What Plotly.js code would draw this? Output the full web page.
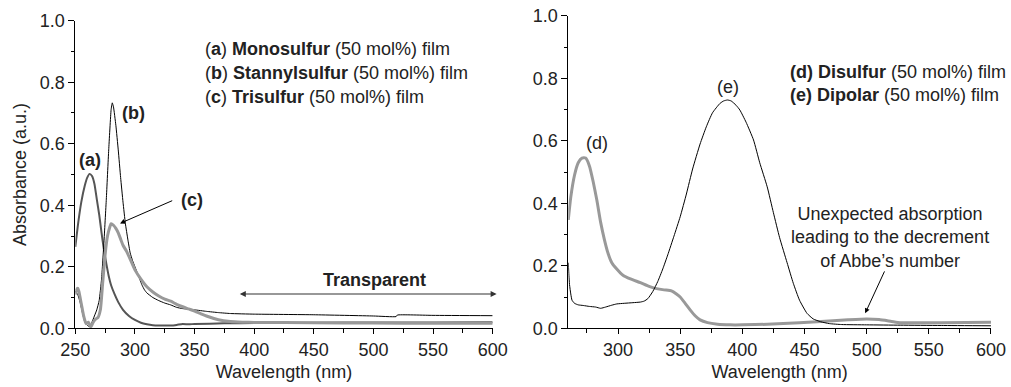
<!DOCTYPE html>
<html>
<head>
<meta charset="utf-8">
<script src="https://cdn.plot.ly/plotly-3.0.1.min.js"></script>
<style>html,body{margin:0;padding:0;background:#fff;}#chart{width:1011px;height:387px;}</style>
</head>
<body>
<div id="chart"></div>
<script>
// (a) Monosulfur
const aX = [250,252,255,258,260,262,264,266,268,270,272,274,276,278,280,283,286,290,295,300,305,310,315,320,330,335,340,345,350,375,400,450,500,550,600];
const aY = [0.265,0.33,0.41,0.465,0.49,0.502,0.495,0.47,0.42,0.37,0.31,0.255,0.21,0.17,0.14,0.11,0.085,0.06,0.04,0.027,0.018,0.013,0.01,0.009,0.009,0.011,0.014,0.013,0.014,0.016,0.017,0.018,0.019,0.019,0.02];
// (b) Stannylsulfur
const bX = [250,252,254,256,258,260,262,264,266,268,270,272,274,276,278,280,281,282,284,286,288,290,292,294,296,298,300,303,306,308,310,315,320,325,330,335,340,345,350,360,370,380,400,450,500,519,520,550,600];
const bY = [0.12,0.11,0.085,0.05,0.02,0.01,0.005,0.02,0.04,0.06,0.09,0.16,0.28,0.42,0.58,0.71,0.733,0.72,0.66,0.58,0.49,0.41,0.34,0.29,0.245,0.22,0.2,0.17,0.14,0.125,0.115,0.1,0.09,0.082,0.076,0.068,0.064,0.062,0.06,0.055,0.051,0.048,0.046,0.044,0.04,0.038,0.043,0.042,0.041];
// (c) Trisulfur
const cX = [250,251,252,253,255,257,259,261,263,265,267,269,271,273,275,277,279,280,282,284,286,288,290,293,296,300,305,310,315,320,325,330,335,340,345,350,355,360,370,380,390,400,450,500,550,600];
const cY = [0.11,0.125,0.13,0.12,0.08,0.04,0.015,0.02,0.005,0.02,0.03,0.035,0.06,0.15,0.24,0.3,0.33,0.34,0.335,0.325,0.31,0.29,0.27,0.25,0.225,0.19,0.16,0.135,0.118,0.105,0.095,0.088,0.078,0.07,0.063,0.056,0.048,0.04,0.028,0.022,0.02,0.019,0.018,0.017,0.016,0.016];
// (d) Disulfur
const dX = [260,262,265,268,271,274,277,280,283,286,289,292,295,299,304,310,318,325,331,337,343,347,350,354,358,362,366,372,380,390,400,420,446,460,473,485,500,510,520,527,540,560,600];
const dY = [0.347,0.42,0.49,0.53,0.545,0.545,0.52,0.47,0.41,0.34,0.285,0.24,0.21,0.19,0.17,0.158,0.146,0.134,0.127,0.123,0.12,0.11,0.1,0.08,0.059,0.04,0.027,0.018,0.013,0.011,0.011,0.013,0.018,0.021,0.024,0.027,0.03,0.028,0.022,0.018,0.018,0.018,0.019];
// (e) Dipolar
const eX = [260,260.5,261,262,263,265,268,272,277,282,286,290,295,299,305,312,318,321,324,328,332,336,340,345,350,355,360,366,371,376,382,385,388,391,395,398,403,409,414,420,425,430,436,441,446,452,457,463,470,480,500,527,560,600];
const eY = [0.21,0.17,0.14,0.11,0.09,0.08,0.075,0.073,0.07,0.068,0.064,0.068,0.074,0.078,0.08,0.082,0.084,0.087,0.095,0.118,0.15,0.19,0.235,0.295,0.357,0.43,0.51,0.59,0.645,0.69,0.72,0.728,0.731,0.728,0.714,0.699,0.66,0.603,0.53,0.453,0.37,0.29,0.21,0.144,0.09,0.048,0.03,0.021,0.015,0.012,0.011,0.01,0.009,0.008];

const xTickVals = [250,300,350,400,450,500,550,600];
const yTickVals = [0.0,0.2,0.4,0.6,0.8,1.0];

const FONT = 'Liberation Sans, Arial, Helvetica, sans-serif';
const TXT = '#222';
const FS = 18;

const traces = [
  {x:aX, y:aY, xaxis:'x', yaxis:'y', mode:'lines', name:'(a) Monosulfur', line:{color:'#555', width:2, shape:'spline', smoothing:0.5}},
  {x:bX, y:bY, xaxis:'x', yaxis:'y', mode:'lines', name:'(b) Stannylsulfur', line:{color:'#000', width:1, shape:'spline', smoothing:0.4}},
  {x:cX, y:cY, xaxis:'x', yaxis:'y', mode:'lines', name:'(c) Trisulfur', line:{color:'#999', width:3, shape:'spline', smoothing:0.5}},
  {x:dX, y:dY, xaxis:'x2', yaxis:'y2', mode:'lines', name:'(d) Disulfur', line:{color:'#999', width:3, shape:'spline', smoothing:0.5}},
  {x:eX, y:eY, xaxis:'x2', yaxis:'y2', mode:'lines', name:'(e) Dipolar', line:{color:'#000', width:1, shape:'spline', smoothing:0.5}}
];

function xAxis(domain, range, anchor) {
  return {
    domain: domain, range: range, anchor: anchor,
    showline: true, linecolor: '#000', linewidth: 1, mirror: false,
    showgrid: false, zeroline: false,
    ticks: 'outside', ticklen: 5, tickcolor: '#000', tickwidth: 1,
    tickvals: xTickVals,
    minor: {ticks: 'outside', ticklen: 4, tickcolor: '#000', dtick: 25, tick0: 250, showgrid: false},
    tickfont: {family: FONT, size: FS, color: TXT},
    title: {text: 'Wavelength (nm)', font: {family: FONT, size: FS, color: TXT}, standoff: 6}
  };
}
function yAxis(domain, anchor, title) {
  const ax = {
    domain: domain, range: [0, 1], anchor: anchor,
    showline: true, linecolor: '#000', linewidth: 1,
    showgrid: false, zeroline: false,
    ticks: 'outside', ticklen: 6, tickcolor: '#000', tickwidth: 1,
    tickvals: yTickVals, tickformat: '.1f',
    minor: {ticks: 'outside', ticklen: 3, tickcolor: '#000', dtick: 0.1, showgrid: false},
    tickfont: {family: FONT, size: FS, color: TXT}
  };
  if (title) ax.title = {text: title, font: {family: FONT, size: FS, color: TXT}, standoff: 8};
  return ax;
}

const f = {family: FONT, size: FS, color: TXT};
const annotations = [
  // left panel legend text
  {xref:'x', yref:'y', x:357, y:0.907, xanchor:'left', yanchor:'middle', showarrow:false, font:f, text:'(<b>a</b>) <b>Monosulfur</b> (50 mol%) film'},
  {xref:'x', yref:'y', x:357, y:0.831, xanchor:'left', yanchor:'middle', showarrow:false, font:f, text:'(<b>b</b>) <b>Stannylsulfur</b> (50 mol%) film'},
  {xref:'x', yref:'y', x:357, y:0.753, xanchor:'left', yanchor:'middle', showarrow:false, font:f, text:'(<b>c</b>) <b>Trisulfur</b> (50 mol%) film'},
  // curve labels
  {xref:'x', yref:'y', x:262.3, y:0.547, showarrow:false, font:f, text:'<b>(a)</b>'},
  {xref:'x', yref:'y', x:298.6, y:0.699, showarrow:false, font:f, text:'<b>(b)</b>'},
  {xref:'x', yref:'y', x:347.6, y:0.417, showarrow:false, font:f, text:'<b>(c)</b>'},
  {xref:'x', yref:'y', x:287.5, y:0.341, axref:'x', ayref:'y', ax:332.5, ay:0.417, text:'', showarrow:true, arrowhead:2, arrowsize:1, arrowwidth:1, arrowcolor:'#000'},
  // transparent
  {xref:'x', yref:'y', x:501.3, y:0.157, showarrow:false, font:f, text:'<b>Transparent</b>'},
  {xref:'x', yref:'y', x:603.3, y:0.1115, axref:'x', ayref:'y', ax:386.7, ay:0.1115, text:'', showarrow:true, arrowhead:2, startarrowhead:2, arrowside:'end+start', arrowsize:1, arrowwidth:1.2, arrowcolor:'#333'},
  // right panel legend text
  {xref:'x2', yref:'y2', x:437, y:0.822, xanchor:'left', yanchor:'middle', showarrow:false, font:f, text:'<b>(d) Disulfur</b> (50 mol%) film'},
  {xref:'x2', yref:'y2', x:437, y:0.747, xanchor:'left', yanchor:'middle', showarrow:false, font:f, text:'<b>(e) Dipolar</b> (50 mol%) film'},
  {xref:'x2', yref:'y2', x:282.9, y:0.592, showarrow:false, font:f, text:'(d)'},
  {xref:'x2', yref:'y2', x:388.6, y:0.772, showarrow:false, font:f, text:'(e)'},
  {xref:'x2', yref:'y2', x:518.8, y:0.291, showarrow:false, font:f, align:'center', text:'Unexpected absorption<br>leading to the decrement<br>of Abbe\u2019s number'},
  {xref:'x2', yref:'y2', x:498.8, y:0.048, axref:'x2', ayref:'y2', ax:514.9, ay:0.187, text:'', showarrow:true, arrowhead:2, arrowsize:1, arrowwidth:1, arrowcolor:'#000'}
];

const layout = {
  width: 1011, height: 387,
  margin: {l:0, r:0, t:0, b:0},
  paper_bgcolor: '#fff', plot_bgcolor: '#fff',
  showlegend: false,
  font: {family: FONT, size: FS, color: TXT},
  xaxis: xAxis([0.0745, 0.4873], [250, 600], 'y'),
  yaxis: yAxis([0.1517, 0.9465], 'x', 'Absorbance (a.u.)'),
  xaxis2: xAxis([0.5621, 0.9802], [260, 600], 'y2'),
  yaxis2: yAxis([0.1517, 0.9587], 'x2', null),
  annotations: annotations
};

Plotly.newPlot('chart', traces, layout, {displayModeBar: false, staticPlot: true});
</script>
</body>
</html>
